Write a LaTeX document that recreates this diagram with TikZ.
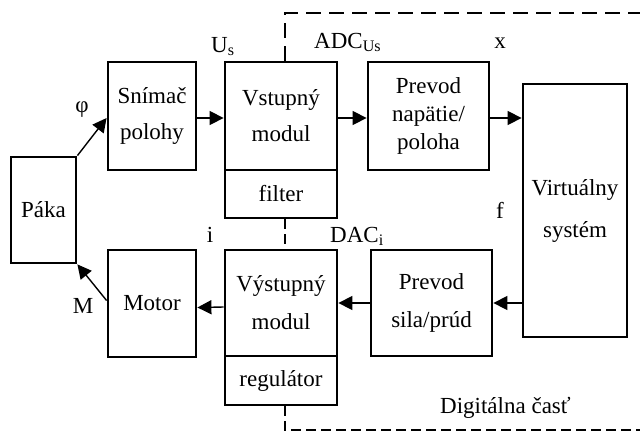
\documentclass[tikz,border=0pt]{standalone}
\usepackage{fontspec}
\setmainfont{Liberation Serif}
\usetikzlibrary{arrows.meta}
\begin{document}
\begin{tikzpicture}[x=1pt,y=-1pt,
  box/.style={draw, line width=2.8pt, inner sep=0pt, align=center,
    font=\fontsize{23}{36}\selectfont},
  lbl/.style={inner sep=0pt, font=\fontsize{23}{27}\selectfont},
  sig/.style={line width=1.4pt, -{Triangle[length=14pt,width=14pt]}},
  zone/.style={line width=2.8pt, dash pattern=on 15pt off 8pt},
  zonefine/.style={line width=2.8pt, dash pattern=on 10pt off 5pt}
]
\useasboundingbox (0,0) rectangle (640,432);

% blocks
\node[box, minimum width=65, minimum height=106] (paka) at (43.5,210) {Páka};
\node[box, minimum width=88, minimum height=108] (snimac) at (152,116) {Snímač\\polohy};
\node[box, minimum width=112, minimum height=108] (vstup) at (281,116) {Vstupný\\modul};
\node[box, minimum width=112, minimum height=48] (filter) at (281,194) {filter};
\node[box, minimum width=121, minimum height=108,
      font=\fontsize{23}{28}\selectfont] (prevodU) at (428.5,116) {Prevod\\napätie/\\poloha};
\node[box, minimum width=104, minimum height=253,
      font=\fontsize{23}{42}\selectfont] (virt) at (575,210.5) {Virtuálny\\systém};
\node[box, minimum width=121, minimum height=106,
      font=\fontsize{23}{38}\selectfont] (prevodF) at (431.5,303) {Prevod\\sila/prúd};
\node[box, minimum width=112, minimum height=106,
      font=\fontsize{23}{38}\selectfont] (vystup) at (281,303) {Výstupný\\modul};
\node[box, minimum width=112, minimum height=49] (regul) at (281,380.5) {regulátor};
\node[box, minimum width=88, minimum height=107] (motor) at (152,303.5) {Motor};

% signal flow
\draw[sig] (paka.north east) -- ([yshift=-2pt]snimac.west);
\draw[sig] ([yshift=-2pt]snimac.east) -- ([yshift=-2pt]vstup.west);
\draw[sig] ([yshift=-2pt]vstup.east) -- ([yshift=-2pt]prevodU.west);
\draw[sig] ([yshift=-2pt]prevodU.east) -- ([yshift=-2pt]virt.west |- prevodU.east);
\draw[sig] (virt.west |- prevodF.east) -- (prevodF.east);
\draw[sig] (prevodF.west) -- (vystup.east);
\draw[sig] ([yshift=-4pt]vystup.west) -- ([yshift=-4pt]motor.east);
\draw[sig] ([yshift=3pt]motor.west) -- (paka.south east);

% signal labels
\node[lbl, anchor=base] (phi) at (82,112) {φ};
\node[lbl, anchor=base west] (us) at (211,52) {U\textsubscript{s}};
\node[lbl, anchor=base west] (adc) at (314,48) {ADC\textsubscript{Us}};
\node[lbl, anchor=base] (xl) at (500,48) {x};
\node[lbl, anchor=base] (fl) at (500,218) {f};
\node[lbl, anchor=base] (il) at (210,242) {i};
\node[lbl, anchor=base west] (dac) at (330,242) {DAC\textsubscript{i}};
\node[lbl, anchor=base] (ml) at (83,313) {M};
\node[lbl, anchor=base west] (dig) at (440,413) {Digitálna časť};

% boundary of the digital part
\coordinate (ztop) at (285,13);
\coordinate (zbot) at (285,430);
\draw[zone] (vstup.north -| ztop) -- (ztop) -- (640,13);
\draw[zonefine] (filter.south -| ztop) -- (vystup.north -| ztop);
\draw[zonefine] (regul.south -| zbot) -- (zbot) -- (640,430);
\end{tikzpicture}
\end{document}
